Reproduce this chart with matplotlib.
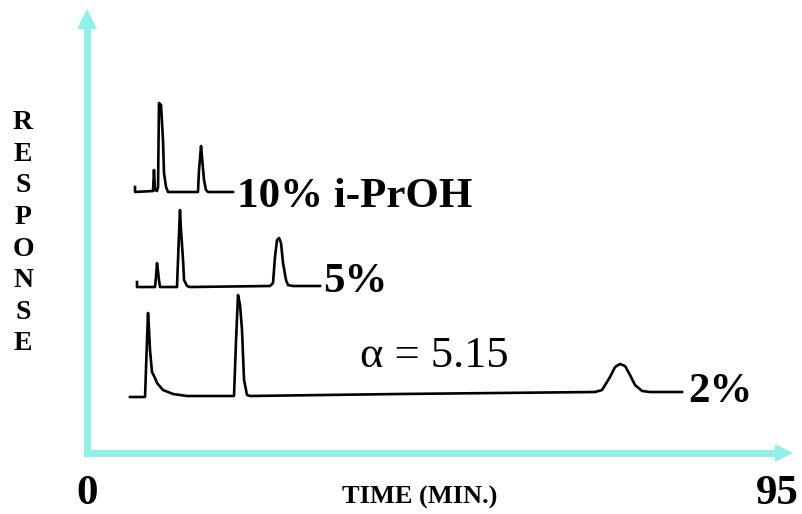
import matplotlib.pyplot as plt
import numpy as np

# chromatogram traces: time (min), response (arbitrary units)
t_10 = [6.61, 6.61, 9.09, 9.22, 9.36, 9.64, 9.78, 9.91, 10.19, 10.46, 10.60, 10.74, 10.88, 11.15,
        15.28, 15.42, 15.70, 15.83, 16.11, 16.38, 16.66, 20.10]
r_10 = [60.05, 58.92, 59.14, 63.88, 59.37, 59.14, 60.05, 79.01, 78.56, 70.65, 63.21, 61.63, 60.05, 58.92,
        58.92, 63.88, 69.30, 66.82, 61.63, 59.37, 58.92, 58.92]

t_5 = [6.88, 6.88, 9.36, 9.50, 9.64, 9.91, 10.05, 12.39, 12.67, 12.80, 12.94, 13.22, 13.36, 13.77, 14.18,
       25.20, 25.61, 25.88, 26.16, 26.44, 26.71, 26.99, 27.40, 27.67, 28.36, 32.08]
r_5 = [38.60, 37.47, 37.47, 39.73, 42.89, 39.05, 37.47, 37.47, 49.66, 54.85, 50.34, 43.57, 39.05, 37.70, 37.47,
       37.70, 38.37, 44.24, 48.08, 48.53, 47.40, 42.89, 39.05, 37.92, 37.70, 37.70]

t_2 = [5.92, 7.99, 8.26, 8.40, 8.54, 8.67, 8.95, 9.36, 9.64, 10.46, 11.84, 13.77, 20.24, 20.52, 20.79,
       21.07, 21.34, 21.62, 22.03, 22.44, 43.10, 69.94, 70.91, 72.01, 72.70, 73.39, 74.08, 74.76, 75.45,
       76.42, 77.52, 81.92]
r_2 = [12.64, 12.64, 25.51, 31.60, 27.77, 23.25, 18.28, 16.93, 15.80, 14.22, 13.32, 12.87, 12.87, 25.51, 35.67,
       33.41, 27.77, 16.48, 13.09, 12.87, 13.32, 13.77, 14.22, 17.16, 19.41, 20.09, 19.64, 17.61, 15.35,
       14.00, 13.77, 13.77]

labels = ['10% i-PrOH', '5%', '2%']
label_t = [20.65, 32.49, 82.75]
label_r = [55.53, 36.34, 11.51]

t_end = 95
axis_color = '#8EF2E9'

fig = plt.figure(figsize=(8.03, 5.14), dpi=100)
ax = fig.add_axes([0, 0, 1, 1])
ax.set_xlim(-11.98, 98.58)
ax.set_ylim(-13.77, 102.26)
ax.axis('off')

# axes with arrow heads
ax.plot([0, 0], [0, 96.0], color=axis_color, linewidth=5, solid_capstyle='projecting')
ax.plot([0, 94.8], [0, 0], color=axis_color, linewidth=5, solid_capstyle='projecting')
ax.plot(0, 97.9, marker='^', markersize=13.7, color=axis_color, markeredgewidth=0)
ax.plot(95.97, 0, marker='>', markersize=13.0, color=axis_color, markeredgewidth=0)

# traces
for t, r in [(t_10, r_10), (t_5, r_5), (t_2, r_2)]:
    ax.plot(t, r, '-k', linewidth=1.9, solid_joinstyle='round')

serif = 'Liberation Serif'
for lab, x, y in zip(labels, label_t, label_r):
    ax.text(x, y, lab, fontsize=31, fontweight='bold', family=serif, ha='left', va='baseline')

ax.text(37.59, 19.41, '\u03b1 = 5.15', fontsize=32, family=serif, ha='left', va='baseline')

ax.text(0, -13.6, '0', fontsize=31, fontweight='bold', family=serif, ha='center', va='bottom')
ax.text(t_end, -13.6, str(t_end), fontsize=31, fontweight='bold', family=serif, ha='center', va='bottom')
ax.text(45.85, -11.4, 'TIME (MIN.)', fontsize=19, fontweight='bold', family=serif, ha='center', va='baseline')

for i, ch in enumerate('RESPONSE'):
    ax.text(-8.81, 74.6 - 7.14 * i, ch, fontsize=20, fontweight='bold', family=serif, ha='center', va='center')

plt.savefig('out.png', dpi=100)
